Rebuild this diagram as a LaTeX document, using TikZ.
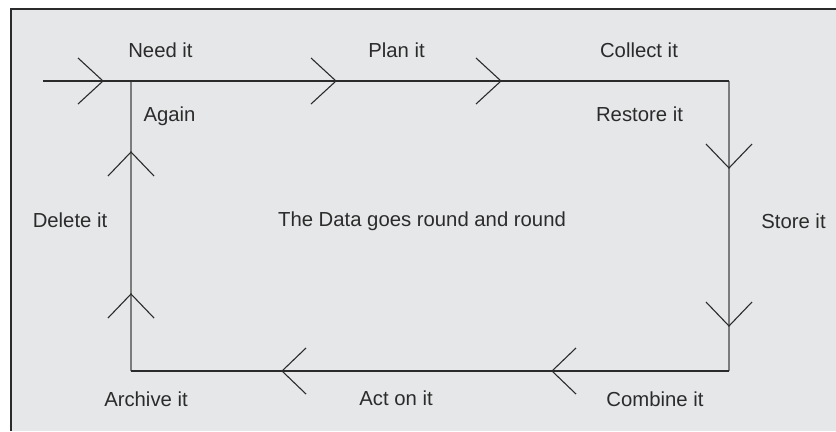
\documentclass[tikz,border=0pt]{standalone}
\usepackage{fontspec}
\setmainfont{Liberation Sans}
\definecolor{panel}{HTML}{E6E7E9}
\definecolor{ink}{HTML}{2B2B2B}
\definecolor{rail}{HTML}{7C7C7C}
\tikzset{
  px/.style={x=1bp,y=-1bp,line width=1.2bp},
  lbl/.style={anchor=base,inner sep=0pt,text=ink,font=\fontsize{20.3bp}{24bp}\selectfont},
  hline/.style={draw=ink,line width=1.3bp},
  vline/.style={draw=rail,line width=1.9bp},
  barb/.style={draw=ink,line width=1.1bp,line join=miter}
}

\begin{document}
\begin{tikzpicture}[px]
  \useasboundingbox (0,0) rectangle (836,431);
  \fill[panel] (11,9) rectangle (836,431);
  \draw[ink,line width=1.4bp] (11,431)--(11,9)--(836,9);
  % the loop
  \coordinate (entry) at (43,81);
  \coordinate (tl) at (131,81);
  \coordinate (tr) at (729,81);
  \coordinate (br) at (729,371);
  \coordinate (bl) at (131,371);
  \draw[vline] (tr)--(br);
  \draw[vline] (bl)--(tl);
  \draw[hline] (entry)--(tr);
  \draw[hline] (br)--(bl);
  % chevrons
  \foreach \x in {103,336,501}{\draw[barb] (\x-25,58)--(\x,81)--(\x-25,104);}
  \foreach \y in {168,326}{\draw[barb] (706,\y-24)--(729,\y)--(752,\y-24);}
  \foreach \x in {282,552}{\draw[barb] (\x+24,348)--(\x,371)--(\x+24,394);}
  \foreach \y in {152,294}{\draw[barb] (108,\y+24)--(131,\y)--(154,\y+24);}
  % labels
  \node[lbl] (need) at (160.5,57) {Need it};
  \node[lbl] (plan) at (396.5,57) {Plan it};
  \node[lbl] (collect) at (639,57) {Collect it};
  \node[lbl] (again) at (169.5,121) {Again};
  \node[lbl] (restore) at (639.5,121) {Restore it};
  \node[lbl] (delete) at (70,227) {Delete it};
  \node[lbl] (store) at (793.5,228) {Store it};
  \node[lbl] (round) at (422,226) {The Data goes round and round};
  \node[lbl] (archive) at (146,406) {Archive it};
  \node[lbl] (act) at (396,405) {Act on it};
  \node[lbl] (combine) at (655,406) {Combine it};
\end{tikzpicture}
\end{document}
